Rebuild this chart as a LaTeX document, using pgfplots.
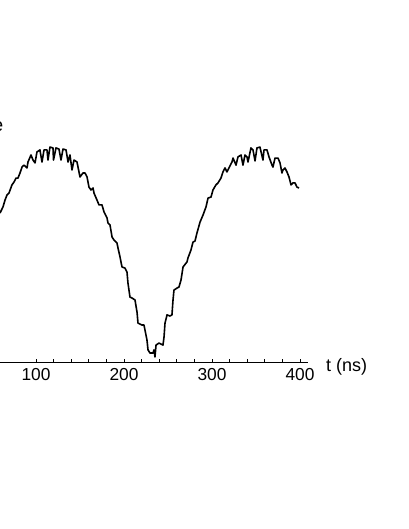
\documentclass[border=0pt]{standalone}
\usepackage{fontspec}
\setmainfont{Liberation Sans}
\usepackage{pgfplots}
\pgfplotsset{compat=1.18}
\pgfplotstableread{
x y
59.1 67.7
62.5 70.5
64.8 73.6
67.0 75.9
69.3 76.8
72.7 80.5
75.0 81.8
77.3 83.6
79.5 83.6
81.8 85.9
84.1 88.6
86.4 89.5
89.8 88.2
90.9 90.9
94.3 94.1
96.6 91.8
98.9 90.5
101.1 95.5
104.5 96.4
106.8 90.9
109.1 96.4
112.5 96.4
113.6 91.8
115.9 97.7
119.3 97.3
119.9 91.8
122.7 97.3
126.1 96.8
128.4 91.8
130.7 96.8
134.1 96.4
136.4 90.9
138.6 94.1
140.9 87.3
143.2 91.8
146.6 90.9
150.0 84.1
153.4 85.9
155.7 85.9
158.0 84.1
160.2 79.5
162.5 78.2
164.8 79.1
165.9 76.8
169.3 73.6
171.6 71.4
175.0 71.4
177.3 68.2
180.7 65.5
181.8 63.2
184.1 62.3
186.4 56.8
188.6 55.5
192.0 54.1
193.2 51.8
195.5 47.7
197.7 43.2
201.1 42.7
203.4 40.9
204.5 35.9
206.8 29.5
209.1 29.1
212.5 28.2
214.8 22.7
215.9 17.7
220.5 16.8
222.7 16.8
226.1 10.0
227.3 5.5
229.5 4.1
233.0 4.1
234.1 5.5
235.2 2.3
236.4 7.7
239.8 8.6
244.3 7.7
245.5 11.4
246.6 17.7
248.9 21.4
252.3 20.9
254.5 21.4
255.7 28.2
256.8 32.7
260.2 33.6
262.5 34.1
264.8 37.3
267.1 43.2
271.6 45.5
272.7 47.3
276.1 50.9
278.4 54.5
280.7 55.0
282.9 58.6
286.4 63.6
289.8 66.8
293.2 70.5
295.5 74.5
298.9 75.0
301.1 78.2
304.5 80.5
306.8 81.4
310.2 83.6
312.5 86.4
314.8 88.2
317.0 86.4
319.3 88.2
322.7 90.9
323.9 92.7
327.3 89.5
329.5 93.2
333.0 94.1
335.2 89.5
337.5 94.1
339.8 93.2
340.9 90.9
344.3 97.3
346.6 96.4
348.9 91.4
351.1 97.3
354.5 97.7
357.9 91.8
359.1 96.4
362.5 96.4
364.8 93.2
368.2 89.5
369.3 88.6
371.6 92.7
375.0 92.7
377.3 90.5
379.5 85.9
380.7 87.3
382.9 88.2
385.2 86.4
387.5 84.1
389.8 80.5
392.0 81.4
394.3 81.4
396.6 79.5
398.9 79.1
}\curvedata
\begin{document}
\begin{tikzpicture}
\useasboundingbox (0,0) rectangle (306.75pt,396.75pt);
\clip (0,0) rectangle (306.75pt,396.75pt);
\begin{axis}[
  at={(0pt,125.25pt)}, anchor=south west,
  scale only axis, width=231pt, height=181.5pt,
  xmin=59.09, xmax=409.1, ymin=0, ymax=110,
  axis x line*=bottom, axis y line=none,
  x axis line style={-, line width=0.6pt},
  xtick={100,200,300,400},
  minor x tick num=4,
  tick align=inside,
  major tick length=2.5pt, minor tick length=2.5pt,
  every tick/.style={line width=0.6pt, black},
  /pgf/number format/assume math mode=true,
  xticklabel style={font=\fontsize{13}{15}\selectfont, yshift=-1pt},
  xlabel={t (ns)},
  xlabel style={at={(rel axis cs:1,0)}, anchor=west, xshift=10pt, yshift=-3.5pt, font=\fontsize{13.5}{15}\selectfont},
  clip=true,
]
\addplot[black, line width=1.2pt, line join=round] table[x=x,y=y] {\curvedata};
\end{axis}
\node[anchor=base east, inner sep=0pt, font=\fontsize{14}{16}\selectfont] at (2.6pt,298pt) {e};
\end{tikzpicture}
\end{document}
